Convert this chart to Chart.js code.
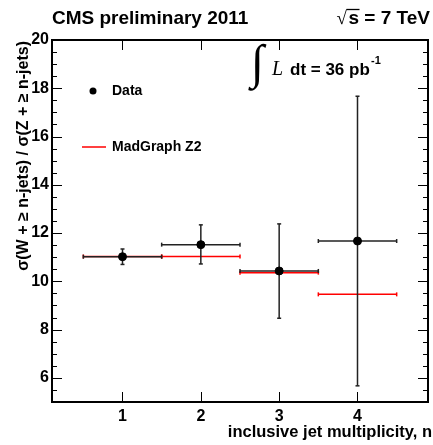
<!DOCTYPE html>
<html>
<head>
<meta charset="utf-8">
<script src="https://cdn.jsdelivr.net/npm/chart.js@4.4.0/dist/chart.umd.min.js"></script>
<style>
  html, body { margin: 0; padding: 0; background: #fff; }
  #wrap { width: 433px; height: 445px; }
</style>
</head>
<body>
<div id="wrap"><canvas id="c"></canvas></div>
<script>
/* global Chart */

const jetBins = [1, 2, 3, 4]
const binLow = [0.5, 1.5, 2.5, 3.5]
const binHigh = [1.5, 2.5, 3.5, 4.5]
const dataRatio = [11.02, 11.52, 10.43, 11.67]
const dataErrUp = [0.32, 0.82, 1.95, 6.0]
const dataErrDown = [0.32, 0.80, 1.96, 6.0]
const madgraphRatio = [11.03, 11.03, 10.36, 9.46]
const xTickValues = [1, 2, 3, 4]
const yTickValues = [6, 8, 10, 12, 14, 16, 18, 20]

const FONT = 'Liberation Sans, Arial, sans-serif'

function hLine (ctx, x1, x2, y) {
  ctx.beginPath(); ctx.moveTo(x1, y); ctx.lineTo(x2, y); ctx.stroke()
}
function vLine (ctx, x, y1, y2) {
  ctx.beginPath(); ctx.moveTo(x, y1); ctx.lineTo(x, y2); ctx.stroke()
}

const errorBars = {
  id: 'errorBars',
  beforeDatasetsDraw (chart) {
    const { ctx, scales: { x, y } } = chart
    ctx.save()
    // MadGraph prediction, one segment per bin
    ctx.strokeStyle = '#ff0000'
    ctx.lineWidth = 1.5
    madgraphRatio.forEach((v, i) => {
      const py = y.getPixelForValue(v)
      const a = x.getPixelForValue(binLow[i])
      const b = x.getPixelForValue(binHigh[i])
      hLine(ctx, a, b, py)
      vLine(ctx, a, py - 2, py + 2)
      vLine(ctx, b, py - 2, py + 2)
    })
    // data error bars
    ctx.strokeStyle = '#222'
    ctx.lineWidth = 1.5
    dataRatio.forEach((v, i) => {
      const px = x.getPixelForValue(jetBins[i])
      const py = y.getPixelForValue(v)
      const a = x.getPixelForValue(binLow[i])
      const b = x.getPixelForValue(binHigh[i])
      const top = y.getPixelForValue(v + dataErrUp[i])
      const bot = y.getPixelForValue(v - dataErrDown[i])
      hLine(ctx, a, b, py)
      vLine(ctx, a, py - 2, py + 2)
      vLine(ctx, b, py - 2, py + 2)
      vLine(ctx, px, top, bot)
      hLine(ctx, px - 2, px + 2, top)
      hLine(ctx, px - 2, px + 2, bot)
    })
    ctx.restore()
  }
}

const frameAndText = {
  id: 'frameAndText',
  afterDraw (chart) {
    const { ctx, chartArea: ca, scales: { x, y } } = chart
    ctx.save()
    ctx.strokeStyle = '#000'
    ctx.lineWidth = 1
    // y ticks, both sides
    for (let v = 5.5; v <= 19.99; v += 0.5) {
      const py = Math.round(y.getPixelForValue(v)) + 0.5
      const len = v % 2 === 0 ? 10 : 5
      hLine(ctx, ca.left, ca.left + len, py)
      hLine(ctx, ca.right - len, ca.right, py)
    }
    // x ticks, bottom and top
    xTickValues.forEach(v => {
      const px = Math.round(x.getPixelForValue(v)) + 0.5
      vLine(ctx, px, ca.bottom, ca.bottom - 10)
      vLine(ctx, px, ca.top, ca.top + 10)
    })
    ctx.lineWidth = 2
    ctx.strokeRect(ca.left, ca.top, ca.right - ca.left, ca.bottom - ca.top)

    ctx.fillStyle = '#000'
    ctx.textBaseline = 'alphabetic'
    // header
    ctx.font = 'bold 19px ' + FONT
    ctx.textAlign = 'left'
    ctx.fillText('CMS preliminary 2011', 52, 24)
    ctx.textAlign = 'right'
    ctx.fillText('s = 7 TeV', 430, 24)
    const sW = ctx.measureText('s = 7 TeV').width
    const sx = 430 - sW
    ctx.textAlign = 'left'
    ctx.font = '19px Liberation Serif, serif'
    ctx.fillText('\u221A', sx - 12, 24)
    ctx.lineWidth = 1.3
    hLine(ctx, sx - 2, sx + 11, 9.5)

    // luminosity
    ctx.font = '48px Liberation Serif, serif'
    ctx.fillText('\u222B', 251, 78)
    ctx.font = 'italic 20px Liberation Serif, serif'
    ctx.fillText('L', 272, 75)
    ctx.font = 'bold 17px ' + FONT
    ctx.fillText('dt = 36 pb', 290, 75)
    ctx.font = 'bold 11px ' + FONT
    ctx.fillText('-1', 371, 64)

    // legend
    ctx.beginPath()
    ctx.arc(93, 91, 3.5, 0, Math.PI * 2)
    ctx.fill()
    ctx.font = 'bold 14px ' + FONT
    ctx.textBaseline = 'middle'
    ctx.fillText('Data', 112, 91)
    ctx.strokeStyle = '#ff0000'
    ctx.lineWidth = 1.5
    hLine(ctx, 82, 106, 147)
    ctx.fillText('MadGraph Z2', 112, 147)

    // axis titles
    ctx.textBaseline = 'alphabetic'
    ctx.font = 'bold 16.5px ' + FONT
    ctx.textAlign = 'right'
    ctx.fillText('inclusive jet multiplicity, n', 432, 437)
    ctx.save()
    ctx.translate(28, 41)
    ctx.rotate(-Math.PI / 2)
    ctx.font = 'bold 16px ' + FONT
    ctx.textAlign = 'right'
    ctx.fillText('\u03C3(W + \u2265 n-jets) / \u03C3(Z + \u2265 n-jets)', 0, 0)
    ctx.restore()
    ctx.restore()
  }
}

new Chart(document.getElementById('c'), {
  type: 'scatter',
  data: {
    datasets: [{
      label: 'Data',
      data: jetBins.map((v, i) => ({ x: v, y: dataRatio[i] })),
      backgroundColor: '#000',
      borderColor: '#000',
      pointRadius: 4,
      pointHoverRadius: 4
    }]
  },
  options: {
    responsive: true,
    maintainAspectRatio: false,
    animation: false,
    events: [],
    layout: { padding: { top: 40, right: 1, left: 0, bottom: 0 } },
    plugins: { legend: { display: false }, tooltip: { enabled: false } },
    scales: {
      x: {
        type: 'linear',
        min: 0.1,
        max: 4.9,
        afterBuildTicks: s => { s.ticks = xTickValues.map(v => ({ value: v })) },
        afterFit: s => { s.height = 43 },
        grid: { display: false, drawTicks: false },
        border: { display: false },
        ticks: { color: '#000', font: { family: FONT, size: 16, weight: 'bold' }, padding: 5, maxRotation: 0 }
      },
      y: {
        min: 5,
        max: 20,
        afterBuildTicks: s => { s.ticks = yTickValues.map(v => ({ value: v })) },
        afterFit: s => { s.width = 52 },
        grid: { display: false, drawTicks: false },
        border: { display: false },
        ticks: { color: '#000', font: { family: FONT, size: 16, weight: 'bold' }, padding: 3 }
      }
    }
  },
  plugins: [errorBars, frameAndText]
})
</script>
</body>
</html>
